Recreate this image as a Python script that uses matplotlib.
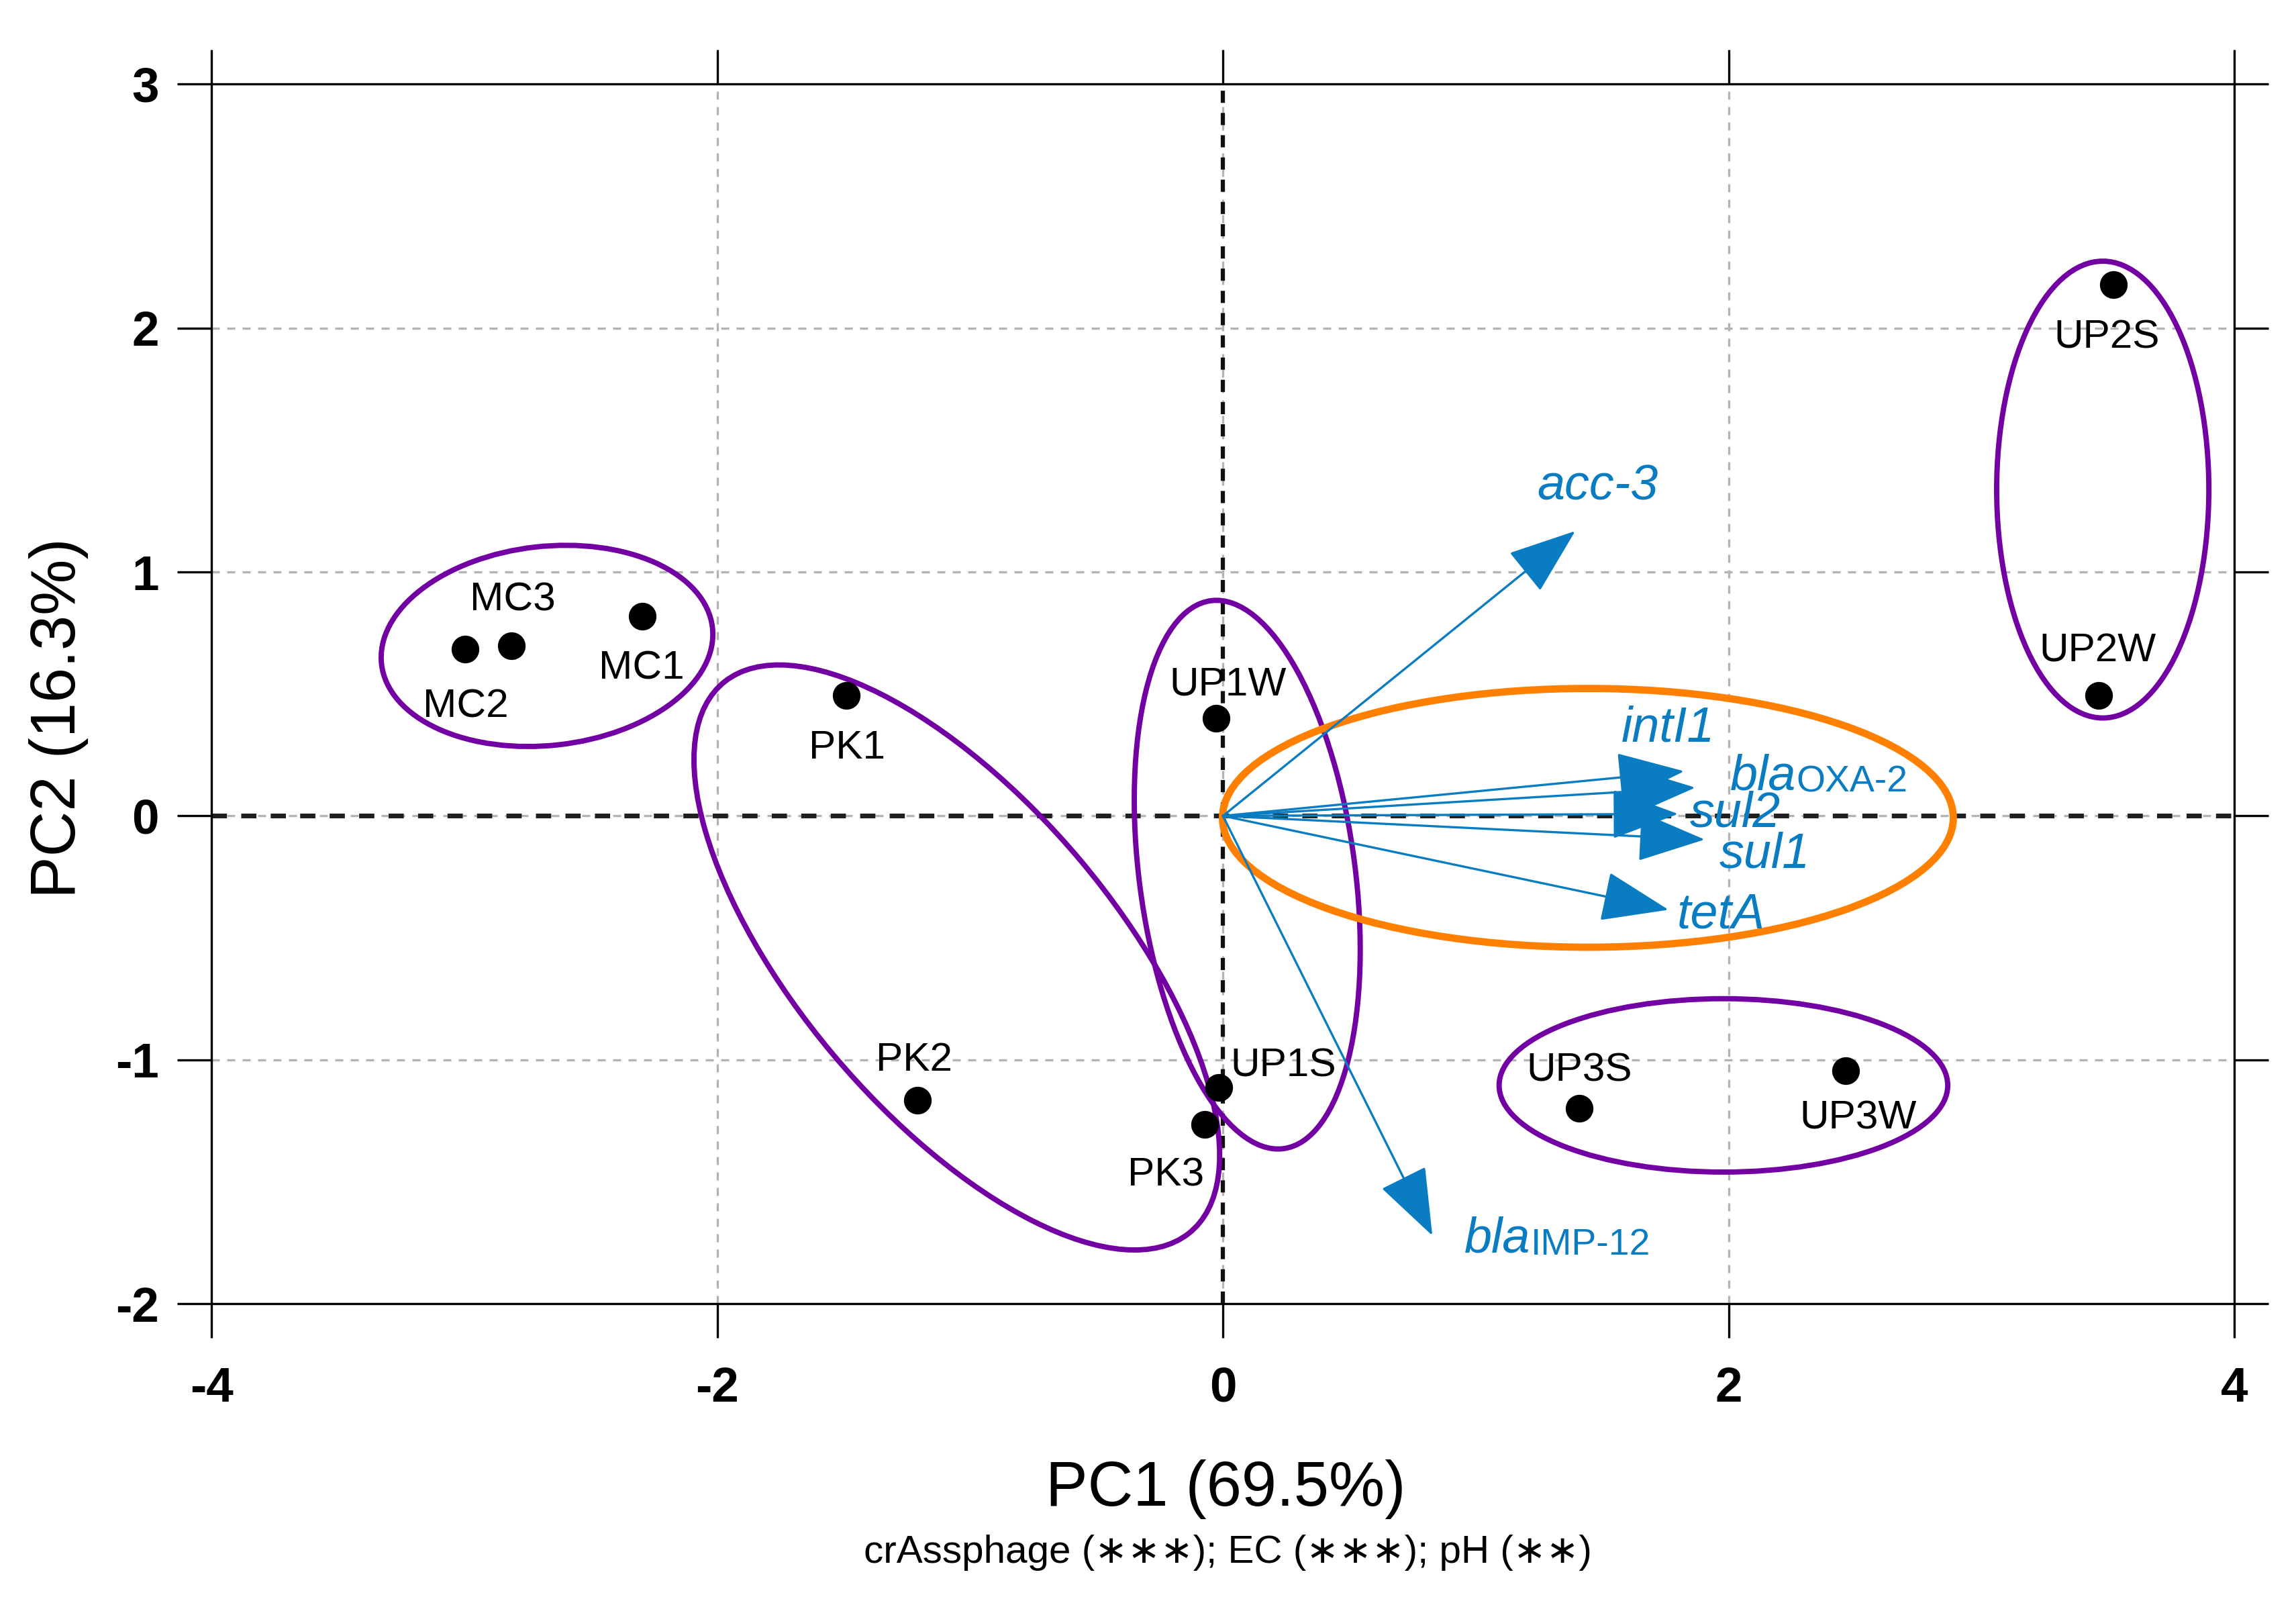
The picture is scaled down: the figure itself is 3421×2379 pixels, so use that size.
import matplotlib
matplotlib.use("Agg")
import matplotlib.pyplot as plt
from matplotlib.patches import Ellipse

plt.rcParams['font.family'] = ['Liberation Sans', 'DejaVu Sans']

# sample scores
samples = ["MC1", "MC2", "MC3", "PK1", "PK2", "PK3",
           "UP1S", "UP1W", "UP2S", "UP2W", "UP3S", "UP3W"]
pc1 = [-2.296, -2.998, -2.813, -1.489, -1.207, -0.073,
       -0.016, -0.027, 3.522, 3.462, 1.410, 2.462]
pc2 = [0.818, 0.683, 0.698, 0.494, -1.166, -1.265,
       -1.114, 0.399, 2.179, 0.494, -1.199, -1.045]

# gene loadings (arrow tips)
genes = ["acc-3", "intI1", "bla|OXA-2", "sul2", "sul1", "tetA", "bla|IMP-12"]
load1 = [1.393, 1.824, 1.868, 1.800, 1.905, 1.762, 0.828]
load2 = [1.168, 0.183, 0.116, 0.008, -0.097, -0.385, -1.721]

# group ellipses: centre, width, height, angle
ell_x = [-2.673, -1.0525, 0.096, 1.979, 3.479, 1.443]
ell_y = [0.697, -0.5805, -0.241, -1.105, 1.338, -0.008]
ell_w = [1.317, 2.913, 2.265, 1.774, 0.839, 2.890]
ell_h = [0.816, 1.261, 0.854, 0.711, 1.873, 1.061]
ell_a = [6.7, -51.0, 97.2, 0.0, 0.0, 0.0]

xticks = [-4, -2, 0, 2, 4]
yticks = [-2, -1, 0, 1, 2, 3]

# label offsets from the points (data units)
samp_off = [(-0.003, -0.257), (0.004, -0.280), (0.005, 0.143), (0.003, -0.258),
            (-0.014, 0.122), (-0.154, -0.253), (0.254, 0.045), (0.046, 0.095),
            (-0.028, -0.261), (-0.002, 0.138), (-0.002, 0.112), (0.050, -0.239)]
gene_off = [(-0.150, 0.127), (-0.248, 0.121), (0.138, -0.010), (0.045, -0.052),
            (0.058, -0.114), (0.033, -0.076), (0.128, -0.069)]

blue = "#0a7dc2"
purple = "#7200a3"
orange = "#ff8000"

fig = plt.figure(figsize=(3421 / 300, 2379 / 300), dpi=300)
ax = fig.add_axes([0.09208, 0.18369, 0.88114, 0.76356])
ax.set_xlim(-4, 4)
ax.set_ylim(-2, 3)

# grid
for v in [-2, 0, 2]:
    ax.axvline(v, color="#b4b4b4", lw=0.8, ls=(0, (3.6, 3.3)), zorder=1)
for v in [-1, 0, 1, 2]:
    ax.axhline(v, color="#b4b4b4", lw=0.8, ls=(0, (3.6, 3.3)), zorder=1)
ax.axhline(0, color="#202020", lw=1.7, ls=(0, (3.2, 3.0)), zorder=1.5)
ax.axvline(0, color="#101010", lw=1.5, ls=(0, (2.9, 2.4)), zorder=1.5)

# ellipses
for i in range(len(ell_x)):
    col = orange if i == len(ell_x) - 1 else purple
    lw = 2.6 if col == orange else 1.9
    ax.add_patch(Ellipse((ell_x[i], ell_y[i]), ell_w[i], ell_h[i], angle=ell_a[i],
                         fill=False, edgecolor=col, lw=lw, zorder=3))

# arrows
for i in range(len(genes)):
    ax.annotate("", xy=(load1[i], load2[i]), xytext=(0, 0),
                arrowprops=dict(arrowstyle="-|>,head_length=2.15,head_width=0.8",
                                mutation_scale=10, color=blue, lw=0.8,
                                shrinkA=0, shrinkB=0), zorder=4)
    tx = load1[i] + gene_off[i][0]
    ty = load2[i] + gene_off[i][1]
    if "|" in genes[i]:
        a, b = genes[i].split("|")
        t = ax.text(tx, ty, a, color=blue, fontsize=17.7, style="italic",
                    ha="left", va="baseline", zorder=6)
        ax.annotate(b, xy=(1, 0), xycoords=t, color=blue, fontsize=13.3,
                    ha="left", va="bottom", zorder=6)
    else:
        ax.text(tx, ty, genes[i], color=blue, fontsize=17.7, style="italic",
                ha="left", va="baseline", zorder=6)

# points
ax.plot(pc1, pc2, "o", color="black", markersize=8.9, zorder=5)
for i in range(len(samples)):
    ax.text(pc1[i] + samp_off[i][0], pc2[i] + samp_off[i][1], samples[i],
            fontsize=14.5, ha="center", va="baseline", zorder=6)

# axes frame and ticks
for s in ax.spines.values():
    s.set_linewidth(0.8)
ax.set_xticks(xticks)
ax.set_yticks(yticks)
ax.set_xticklabels([str(v) for v in xticks], fontsize=17.5, fontweight="bold")
ax.set_yticklabels([str(v) for v in yticks], fontsize=17.5, fontweight="bold")
ax.tick_params(direction="out", length=12.2, width=0.8, top=True, right=True,
               labeltop=False, labelright=False)
ax.tick_params(axis="x", pad=10)
ax.tick_params(axis="y", pad=6.6)

fig.text(1826 / 3421, 1 - 2243 / 2379, "PC1 (69.5%)", fontsize=22.5,
         ha="center", va="baseline")
fig.text(1829 / 3421, 1 - 2328 / 2379, "crAssphage (\u2217\u2217\u2217); EC (\u2217\u2217\u2217); pH (\u2217\u2217)",
         fontsize=14, ha="center", va="baseline")
fig.text(87 / 3421, 1 - 1070 / 2379, "PC2 (16.3%)", fontsize=22.5, rotation=90,
         ha="center", va="center")

fig.savefig("out.png", dpi=300)
